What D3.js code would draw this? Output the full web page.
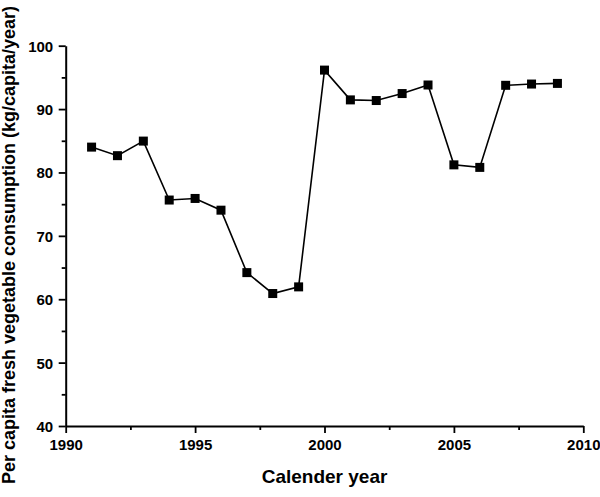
<!DOCTYPE html>
<html>
<head>
<meta charset="utf-8">
<script src="https://cdn.jsdelivr.net/npm/d3@7"></script>
<style>
html, body { margin: 0; padding: 0; background: #fff; }
svg { display: block; font-family: "Liberation Sans", Arial, Helvetica, sans-serif; }
</style>
</head>
<body>
<svg id="chart" width="600" height="497"></svg>
<script>
const years = [1991, 1992, 1993, 1994, 1995, 1996, 1997, 1998, 1999, 2000, 2001, 2002, 2003, 2004, 2005, 2006, 2007, 2008, 2009];
const consumption = [84.0, 82.65, 84.95, 75.65, 75.9, 74.05, 64.2, 60.9, 61.95, 96.15, 91.45, 91.35, 92.45, 93.8, 81.2, 80.8, 93.75, 93.95, 94.05];
const xMajorTicks = [1990, 1995, 2000, 2005, 2010];
const xMinorTicks = [1992.5, 1997.5, 2002.5, 2007.5];
const yMajorTicks = [40, 50, 60, 70, 80, 90, 100];
const yMinorTicks = [45, 55, 65, 75, 85, 95];
const xTitle = "Calender year";
const yTitle = "Per capita fresh vegetable consumption (kg/capita/year)";

const svg = d3.select("#chart");
const x = d3.scaleLinear().domain([1990, 2010]).range([65.7, 583.3]);
const y = d3.scaleLinear().domain([40, 100]).range([426, 45.7]);

function styleAxis(g) {
  g.selectAll("path.domain").attr("stroke", "#000").attr("stroke-width", 2);
  g.selectAll(".tick line").attr("stroke", "#000").attr("stroke-width", 1.8);
  g.selectAll(".tick text").attr("fill", "#000")
    .style("font-size", "15px").style("font-weight", "bold")
    .style("font-family", '"Liberation Sans", Arial, sans-serif');
}

// minor ticks
svg.append("g").attr("transform", `translate(0,${y(40)})`)
  .call(d3.axisBottom(x).tickValues(xMinorTicks).tickSize(4).tickFormat(""))
  .call(g => { g.select(".domain").remove(); g.selectAll(".tick line").attr("stroke", "#000").attr("stroke-width", 1.8); });
svg.append("g").attr("transform", `translate(${x(1990)},0)`)
  .call(d3.axisLeft(y).tickValues(yMinorTicks).tickSize(4).tickFormat(""))
  .call(g => { g.select(".domain").remove(); g.selectAll(".tick line").attr("stroke", "#000").attr("stroke-width", 1.8); });

// major axes
svg.append("g").attr("transform", `translate(0,${y(40)})`)
  .call(d3.axisBottom(x).tickValues(xMajorTicks).tickSize(7).tickSizeOuter(0).tickPadding(6).tickFormat(d3.format("d")))
  .call(styleAxis);
svg.append("g").attr("transform", `translate(${x(1990)},0)`)
  .call(d3.axisLeft(y).tickValues(yMajorTicks).tickSize(7).tickSizeOuter(0).tickPadding(5.5).tickFormat(d3.format("d")))
  .call(styleAxis)
  .call(g => g.selectAll(".tick text").attr("dy", "0.36em"));

// line
const data = years.map((yr, i) => ({ yr, v: consumption[i] }));
svg.append("path").datum(data)
  .attr("fill", "none").attr("stroke", "#000").attr("stroke-width", 1.6)
  .attr("d", d3.line().x(d => x(d.yr)).y(d => y(d.v)));

// markers
const s = 9;
svg.selectAll("rect.pt").data(data).enter().append("rect")
  .attr("class", "pt")
  .attr("x", d => x(d.yr) - s / 2).attr("y", d => y(d.v) - s / 2)
  .attr("width", s).attr("height", s).attr("fill", "#000");

// titles
svg.append("text").attr("x", (x(1990) + x(2010)) / 2).attr("y", 483)
  .attr("text-anchor", "middle").style("font-size", "19px").style("font-weight", "bold")
  .text(xTitle);
svg.append("text").attr("transform", "translate(15,245) rotate(-90)")
  .attr("text-anchor", "middle").style("font-size", "18px").style("font-weight", "bold")
  .text(yTitle);
</script>
</body>
</html>
